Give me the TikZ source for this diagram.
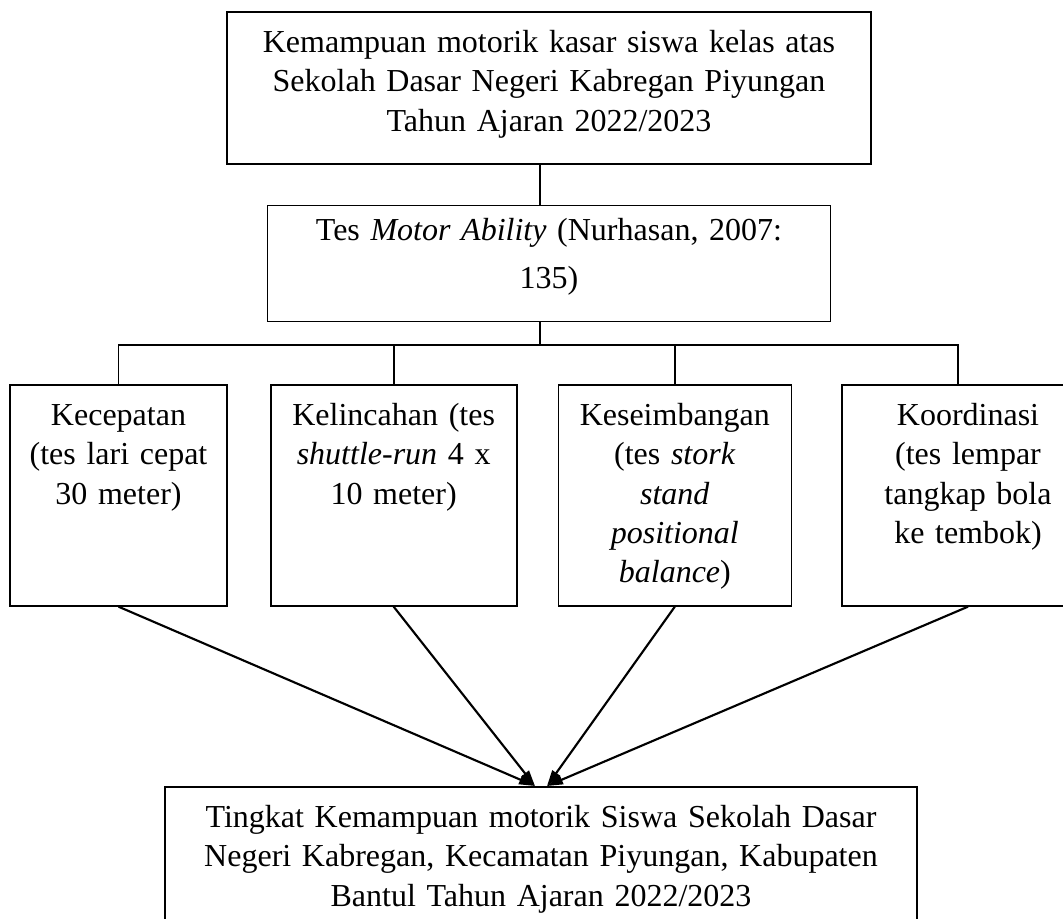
\documentclass[tikz,border=0pt]{standalone}
\usepackage{fontspec}
\setmainfont{Liberation Serif}
\usetikzlibrary{positioning,arrows.meta}

\begin{document}
\begin{tikzpicture}[node distance=30pt, line width=1.25pt,
    box/.style={draw, inner sep=0pt, align=center, text height=30.5pt,
                font=\fontsize{24}{29.5}\selectfont},
    test node/.style={box, text depth=135.25pt},
    to result/.style={line width=1.6pt, -{Triangle[length=12pt,width=7pt]}}]

  \useasboundingbox (0,0) rectangle (797.25pt,688.5pt);

  \node[box, text width=483pt, text depth=83.5pt, anchor=north] (top) at (411.75pt,680.25pt)
    {Kemampuan motorik kasar siswa kelas atas\\ Sekolah Dasar Negeri Kabregan Piyungan\\ Tahun Ajaran 2022/2023};
  \node[box, text width=422.25pt, text height=26.25pt, text depth=60.75pt] (tes) [below=of top]
    {Tes \textit{Motor Ability} (Nurhasan, 2007:\\[6.5pt] 135)};

  \node[test node, text width=162.75pt, anchor=north] (speed) at (88.875pt,400.5pt)
    {Kecepatan\\ (tes lari cepat\\ 30 meter)};
  \node[test node, text width=184.5pt] (agility) [right=31.5pt of speed]
    {Kelincahan (tes\\ \textit{shuttle-run} 4 x\\ 10 meter)};
  \node[test node, text width=174.75pt] (balance) [right=of agility]
    {Keseimbangan\\ (tes \textit{stork}\\ \textit{stand}\\ \textit{positional}\\ \textit{balance})};
  \node[test node, text width=189pt] (coord) [right=36.75pt of balance]
    {Koordinasi\\ (tes lempar\\ tangkap bola\\ ke tembok)};

  \node[box, text width=564pt, text depth=82pt, anchor=north] (result) at (405.75pt,99pt)
    {Tingkat Kemampuan motorik Siswa Sekolah Dasar\\ Negeri Kabregan, Kecamatan Piyungan, Kabupaten\\ Bantul Tahun Ajaran 2022/2023};

  % tree lines
  \coordinate (fork) at (405pt,429.75pt);
  \draw (top.south -| fork) -- (tes.north -| fork);
  \draw (tes.south -| fork) -- (fork);
  \draw (speed.north) |- (fork) -| ([xshift=-7.5pt]coord.north);
  \draw (agility.north) -- (agility.north |- fork);
  \draw (balance.north) -- (balance.north |- fork);

  % arrows to the result
  \draw[to result] (speed.south) -- ([xshift=-4.5pt]result.north);
  \draw[to result] (agility.south) -- ([xshift=-4.5pt]result.north);
  \draw[to result] (balance.south) -- ([xshift=4.5pt]result.north);
  \draw[to result] (coord.south) -- ([xshift=4.5pt]result.north);
\end{tikzpicture}
\end{document}
